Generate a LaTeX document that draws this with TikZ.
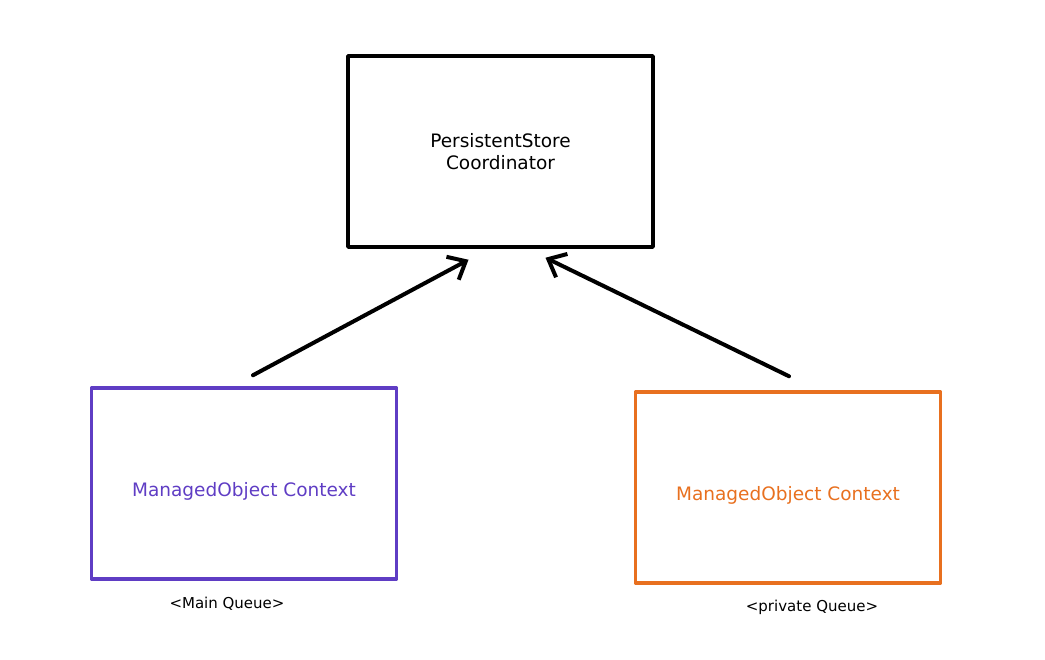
\documentclass[tikz,border=0pt]{standalone}
\usepackage{fontspec}
\setmainfont{DejaVu Sans}
\usetikzlibrary{arrows.meta}
\definecolor{ctxpurple}{HTML}{5F3DC4}
\definecolor{ctxorange}{HTML}{E8701F}
\newcommand{\lowtext}[1]{\raisebox{-8pt}[\height][\depth]{#1}}
\begin{document}
\begin{tikzpicture}[x=1pt,y=1pt, line cap=round, line join=round,
  store node/.style={rectangle,draw=black,line width=3.5pt,minimum width=305pt,minimum height=191pt,align=center,font=\fontsize{18.5}{22}\selectfont},
  main node/.style={store node,draw=ctxpurple,text=ctxpurple},
  private node/.style={store node,draw=ctxorange,text=ctxorange},
  queue node/.style={font=\fontsize{15}{18}\selectfont}] % hand drawn look
\useasboundingbox (0,0) rectangle (1045,660);
\node[store node] (1) at (500.5,508.5) {PersistentStore\\Coordinator};
\node[main node] (2) at (244,176.5) {\lowtext{ManagedObject Context}};
\node[private node] (3) at (788,172.5) {\lowtext{ManagedObject Context}};
\node[queue node] (4) at (227,56) {<Main Queue>};
\node[queue node] (5) at (812,53) {<private Queue>};


 \path[-{Straight Barb[length=15pt,width=26pt]}, line width=4pt]
([shift={(9,11)}]2.north) edge node {} ([shift={(-32,-11)}]1.south)
([shift={(1,14)}]3.north) edge node {} ([shift={(45,-9)}]1.south);



\end{tikzpicture}
\end{document}
